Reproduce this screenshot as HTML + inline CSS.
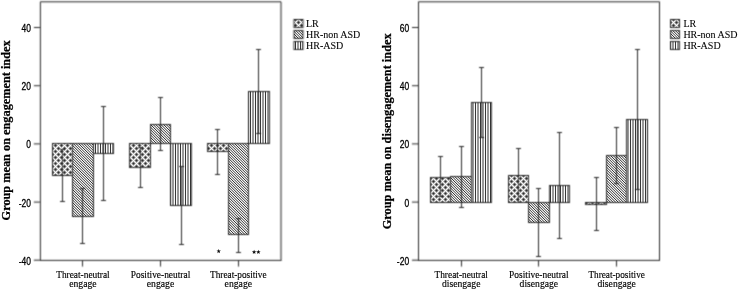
<!DOCTYPE html>
<html><head><meta charset="utf-8"><style>
html,body{margin:0;padding:0;background:#fff;}
body{width:738px;height:291px;overflow:hidden;}
svg{display:block;}
.tk{font-family:"Liberation Sans",sans-serif;font-size:10.6px;fill:#000;stroke:#000;stroke-width:0.3px;}
.yl{font-family:"Liberation Serif",serif;font-weight:bold;font-size:12.8px;fill:#000;stroke:#000;stroke-width:0.25px;}
.xl{font-family:"Liberation Serif",serif;font-size:10px;fill:#000;stroke:#000;stroke-width:0.15px;}
.lg{font-family:"Liberation Serif",serif;font-size:10px;fill:#000;stroke:#000;stroke-width:0.08px;}
</style></head><body>
<svg width="738" height="291" viewBox="0 0 738 291">
<defs>
<filter id="bl" filterUnits="userSpaceOnUse" x="0" y="0" width="738" height="291"><feConvolveMatrix order="3" kernelMatrix="1 3 1 3 9 3 1 3 1" divisor="25" preserveAlpha="false" edgeMode="none"/></filter>
<filter id="bt" filterUnits="userSpaceOnUse" x="0" y="0" width="738" height="291"><feConvolveMatrix order="3" kernelMatrix="0 0 0 0 1 0 0 0 0" divisor="1" preserveAlpha="false" edgeMode="none"/></filter>
<pattern id="pLR" patternUnits="userSpaceOnUse" x="1" y="1" width="6" height="6"><path fill="#313131" d="M0 0h1v1h-1zM3 3h1v1h-1z"/><path fill="#636363" d="M1 0h1v1h-1zM5 0h1v1h-1zM0 1h1v1h-1zM3 2h1v1h-1zM2 3h1v1h-1zM4 3h1v1h-1zM3 4h1v1h-1zM0 5h1v1h-1z"/><path fill="#c3c3c3" d="M2 0h1v1h-1zM4 0h1v1h-1zM3 1h1v1h-1zM0 2h1v1h-1zM1 3h1v1h-1zM5 3h1v1h-1zM0 4h1v1h-1zM3 5h1v1h-1z"/><path fill="#ffffff" d="M3 0h1v1h-1zM0 3h1v1h-1z"/><path fill="#a8a8a8" d="M1 1h1v1h-1zM5 1h1v1h-1zM2 2h1v1h-1zM4 2h1v1h-1zM2 4h1v1h-1zM4 4h1v1h-1zM1 5h1v1h-1zM5 5h1v1h-1z"/><path fill="#f1f1f1" d="M2 1h1v1h-1zM4 1h1v1h-1zM1 2h1v1h-1zM5 2h1v1h-1zM1 4h1v1h-1zM5 4h1v1h-1zM2 5h1v1h-1zM4 5h1v1h-1z"/></pattern>
<pattern id="pHN" patternUnits="userSpaceOnUse" x="0" y="0" width="13" height="13"><path fill="#383838" d="M0 0h1v1h-1zM1 1h1v1h-1zM2 2h1v1h-1zM3 3h1v1h-1zM4 4h1v1h-1zM5 5h1v1h-1zM6 6h1v1h-1zM7 7h1v1h-1zM8 8h1v1h-1zM9 9h1v1h-1zM10 10h1v1h-1zM11 11h1v1h-1zM12 12h1v1h-1z"/><path fill="#ededed" d="M1 0h1v1h-1zM2 1h1v1h-1zM3 2h1v1h-1zM4 3h1v1h-1zM5 4h1v1h-1zM6 5h1v1h-1zM7 6h1v1h-1zM8 7h1v1h-1zM9 8h1v1h-1zM10 9h1v1h-1zM11 10h1v1h-1zM12 11h1v1h-1zM0 12h1v1h-1z"/><path fill="#b1b1b1" d="M2 0h1v1h-1zM3 1h1v1h-1zM4 2h1v1h-1zM5 3h1v1h-1zM6 4h1v1h-1zM7 5h1v1h-1zM8 6h1v1h-1zM9 7h1v1h-1zM10 8h1v1h-1zM11 9h1v1h-1zM12 10h1v1h-1zM0 11h1v1h-1zM1 12h1v1h-1z"/><path fill="#818181" d="M3 0h1v1h-1zM10 0h1v1h-1zM4 1h1v1h-1zM11 1h1v1h-1zM5 2h1v1h-1zM12 2h1v1h-1zM0 3h1v1h-1zM6 3h1v1h-1zM1 4h1v1h-1zM7 4h1v1h-1zM2 5h1v1h-1zM8 5h1v1h-1zM3 6h1v1h-1zM9 6h1v1h-1zM4 7h1v1h-1zM10 7h1v1h-1zM5 8h1v1h-1zM11 8h1v1h-1zM6 9h1v1h-1zM12 9h1v1h-1zM0 10h1v1h-1zM7 10h1v1h-1zM1 11h1v1h-1zM8 11h1v1h-1zM2 12h1v1h-1zM9 12h1v1h-1z"/><path fill="#f9f9f9" d="M4 0h1v1h-1zM9 0h1v1h-1zM12 0h1v1h-1zM0 1h1v1h-1zM5 1h1v1h-1zM10 1h1v1h-1zM1 2h1v1h-1zM6 2h1v1h-1zM11 2h1v1h-1zM2 3h1v1h-1zM7 3h1v1h-1zM12 3h1v1h-1zM0 4h1v1h-1zM3 4h1v1h-1zM8 4h1v1h-1zM1 5h1v1h-1zM4 5h1v1h-1zM9 5h1v1h-1zM2 6h1v1h-1zM5 6h1v1h-1zM10 6h1v1h-1zM3 7h1v1h-1zM6 7h1v1h-1zM11 7h1v1h-1zM4 8h1v1h-1zM7 8h1v1h-1zM12 8h1v1h-1zM0 9h1v1h-1zM5 9h1v1h-1zM8 9h1v1h-1zM1 10h1v1h-1zM6 10h1v1h-1zM9 10h1v1h-1zM2 11h1v1h-1zM7 11h1v1h-1zM10 11h1v1h-1zM3 12h1v1h-1zM8 12h1v1h-1zM11 12h1v1h-1z"/><path fill="#5d5d5d" d="M5 0h1v1h-1zM8 0h1v1h-1zM6 1h1v1h-1zM9 1h1v1h-1zM7 2h1v1h-1zM10 2h1v1h-1zM8 3h1v1h-1zM11 3h1v1h-1zM9 4h1v1h-1zM12 4h1v1h-1zM0 5h1v1h-1zM10 5h1v1h-1zM1 6h1v1h-1zM11 6h1v1h-1zM2 7h1v1h-1zM12 7h1v1h-1zM0 8h1v1h-1zM3 8h1v1h-1zM1 9h1v1h-1zM4 9h1v1h-1zM2 10h1v1h-1zM5 10h1v1h-1zM3 11h1v1h-1zM6 11h1v1h-1zM4 12h1v1h-1zM7 12h1v1h-1z"/><path fill="#c9c9c9" d="M6 0h1v1h-1zM7 1h1v1h-1zM8 2h1v1h-1zM9 3h1v1h-1zM10 4h1v1h-1zM11 5h1v1h-1zM12 6h1v1h-1zM0 7h1v1h-1zM1 8h1v1h-1zM2 9h1v1h-1zM3 10h1v1h-1zM4 11h1v1h-1zM5 12h1v1h-1z"/><path fill="#d5d5d5" d="M7 0h1v1h-1zM8 1h1v1h-1zM9 2h1v1h-1zM10 3h1v1h-1zM11 4h1v1h-1zM12 5h1v1h-1zM0 6h1v1h-1zM1 7h1v1h-1zM2 8h1v1h-1zM3 9h1v1h-1zM4 10h1v1h-1zM5 11h1v1h-1zM6 12h1v1h-1z"/><path fill="#a5a5a5" d="M11 0h1v1h-1zM12 1h1v1h-1zM0 2h1v1h-1zM1 3h1v1h-1zM2 4h1v1h-1zM3 5h1v1h-1zM4 6h1v1h-1zM5 7h1v1h-1zM6 8h1v1h-1zM7 9h1v1h-1zM8 10h1v1h-1zM9 11h1v1h-1zM10 12h1v1h-1z"/></pattern>
<pattern id="pHA" patternUnits="userSpaceOnUse" x="0" y="0" width="5" height="1"><path fill="#383838" d="M0 0h1v1h-1z"/><path fill="#f9f9f9" d="M1 0h1v1h-1zM4 0h1v1h-1z"/><path fill="#999999" d="M2 0h2v1h-2z"/></pattern>
</defs>
<rect width="738" height="291" fill="#fff"/>
<g>
<rect x="52.50" y="143.50" width="20.00" height="32.00" fill="url(#pLR)"/>
<rect x="72.50" y="143.50" width="21.00" height="73.00" fill="url(#pHN)"/>
<rect x="93.50" y="143.50" width="20.00" height="10.00" fill="url(#pHA)"/>
<rect x="129.50" y="143.50" width="21.00" height="24.00" fill="url(#pLR)"/>
<rect x="150.50" y="124.50" width="20.00" height="19.00" fill="url(#pHN)"/>
<rect x="170.50" y="143.50" width="21.00" height="62.00" fill="url(#pHA)"/>
<rect x="207.50" y="143.50" width="21.00" height="8.00" fill="url(#pLR)"/>
<rect x="228.50" y="143.50" width="20.00" height="91.00" fill="url(#pHN)"/>
<rect x="248.50" y="91.50" width="21.00" height="52.00" fill="url(#pHA)"/>
<rect x="430.50" y="177.50" width="20.00" height="25.00" fill="url(#pLR)"/>
<rect x="450.50" y="176.50" width="21.00" height="26.00" fill="url(#pHN)"/>
<rect x="471.50" y="102.50" width="20.00" height="100.00" fill="url(#pHA)"/>
<rect x="508.50" y="175.50" width="20.00" height="27.00" fill="url(#pLR)"/>
<rect x="528.50" y="202.50" width="21.00" height="20.00" fill="url(#pHN)"/>
<rect x="549.50" y="185.50" width="20.00" height="17.00" fill="url(#pHA)"/>
<rect x="585.50" y="202.50" width="21.00" height="2.00" fill="url(#pLR)"/>
<rect x="606.50" y="155.50" width="20.00" height="47.00" fill="url(#pHN)"/>
<rect x="626.50" y="119.50" width="21.00" height="83.00" fill="url(#pHA)"/>
<rect x="294" y="19.5" width="9" height="8" fill="url(#pLR)"/>
<rect x="294" y="30.5" width="9" height="8" fill="url(#pHN)"/>
<rect x="294" y="41.5" width="9" height="8" fill="url(#pHA)"/>
<rect x="670.5" y="19.5" width="9" height="8" fill="url(#pLR)"/>
<rect x="670.5" y="30.5" width="9" height="8" fill="url(#pHN)"/>
<rect x="670.5" y="41.5" width="9" height="8" fill="url(#pHA)"/>
</g>
<g filter="url(#bl)">
<rect x="52.50" y="143.50" width="20.00" height="32.00" fill="none" stroke="#262626" stroke-width="1"/>
<rect x="72.50" y="143.50" width="21.00" height="73.00" fill="none" stroke="#262626" stroke-width="1"/>
<rect x="93.50" y="143.50" width="20.00" height="10.00" fill="none" stroke="#262626" stroke-width="1"/>
<path d="M62.50 149.50V201.50M60.00 149.50h5M60.00 201.50h5" stroke="#262626" stroke-width="1" fill="none"/>
<path d="M82.50 188.50V243.50M80.00 188.50h5M80.00 243.50h5" stroke="#262626" stroke-width="1" fill="none"/>
<path d="M103.50 106.50V200.50M101.00 106.50h5M101.00 200.50h5" stroke="#262626" stroke-width="1" fill="none"/>
<rect x="129.50" y="143.50" width="21.00" height="24.00" fill="none" stroke="#262626" stroke-width="1"/>
<rect x="150.50" y="124.50" width="20.00" height="19.00" fill="none" stroke="#262626" stroke-width="1"/>
<rect x="170.50" y="143.50" width="21.00" height="62.00" fill="none" stroke="#262626" stroke-width="1"/>
<path d="M140.50 147.50V187.50M138.00 147.50h5M138.00 187.50h5" stroke="#262626" stroke-width="1" fill="none"/>
<path d="M160.50 97.50V150.50M158.00 97.50h5M158.00 150.50h5" stroke="#262626" stroke-width="1" fill="none"/>
<path d="M181.50 166.50V244.50M179.00 166.50h5M179.00 244.50h5" stroke="#262626" stroke-width="1" fill="none"/>
<rect x="207.50" y="143.50" width="21.00" height="8.00" fill="none" stroke="#262626" stroke-width="1"/>
<rect x="228.50" y="143.50" width="20.00" height="91.00" fill="none" stroke="#262626" stroke-width="1"/>
<rect x="248.50" y="91.50" width="21.00" height="52.00" fill="none" stroke="#262626" stroke-width="1"/>
<path d="M217.50 129.50V174.50M215.00 129.50h5M215.00 174.50h5" stroke="#262626" stroke-width="1" fill="none"/>
<path d="M238.50 218.50V252.50M236.00 218.50h5M236.00 252.50h5" stroke="#262626" stroke-width="1" fill="none"/>
<path d="M258.50 49.50V133.50M256.00 49.50h5M256.00 133.50h5" stroke="#262626" stroke-width="1" fill="none"/>
<rect x="430.50" y="177.50" width="20.00" height="25.00" fill="none" stroke="#262626" stroke-width="1"/>
<rect x="450.50" y="176.50" width="21.00" height="26.00" fill="none" stroke="#262626" stroke-width="1"/>
<rect x="471.50" y="102.50" width="20.00" height="100.00" fill="none" stroke="#262626" stroke-width="1"/>
<path d="M440.50 156.50V196.50M438.00 156.50h5M438.00 196.50h5" stroke="#262626" stroke-width="1" fill="none"/>
<path d="M461.50 146.50V207.50M459.00 146.50h5M459.00 207.50h5" stroke="#262626" stroke-width="1" fill="none"/>
<path d="M481.50 67.50V137.50M479.00 67.50h5M479.00 137.50h5" stroke="#262626" stroke-width="1" fill="none"/>
<rect x="508.50" y="175.50" width="20.00" height="27.00" fill="none" stroke="#262626" stroke-width="1"/>
<rect x="528.50" y="202.50" width="21.00" height="20.00" fill="none" stroke="#262626" stroke-width="1"/>
<rect x="549.50" y="185.50" width="20.00" height="17.00" fill="none" stroke="#262626" stroke-width="1"/>
<path d="M518.50 148.50V202.50M516.00 148.50h5M516.00 202.50h5" stroke="#262626" stroke-width="1" fill="none"/>
<path d="M538.50 188.50V256.50M536.00 188.50h5M536.00 256.50h5" stroke="#262626" stroke-width="1" fill="none"/>
<path d="M559.50 132.50V238.50M557.00 132.50h5M557.00 238.50h5" stroke="#262626" stroke-width="1" fill="none"/>
<rect x="585.50" y="202.50" width="21.00" height="2.00" fill="none" stroke="#262626" stroke-width="1"/>
<rect x="606.50" y="155.50" width="20.00" height="47.00" fill="none" stroke="#262626" stroke-width="1"/>
<rect x="626.50" y="119.50" width="21.00" height="83.00" fill="none" stroke="#262626" stroke-width="1"/>
<path d="M596.50 177.50V230.50M594.00 177.50h5M594.00 230.50h5" stroke="#262626" stroke-width="1" fill="none"/>
<path d="M616.50 127.50V183.50M614.00 127.50h5M614.00 183.50h5" stroke="#262626" stroke-width="1" fill="none"/>
<path d="M637.50 49.50V189.50M635.00 49.50h5M635.00 189.50h5" stroke="#262626" stroke-width="1" fill="none"/>
<path d="M40.4 260.4V1.8H281.0V260.4" fill="none" stroke="#262626" stroke-width="1"/>
<path d="M39.9 260.4H281.5" fill="none" stroke="#262626" stroke-width="1"/>
<path d="M33.9 27.5h6" stroke="#262626" stroke-width="1"/>
<path d="M33.9 85.7h6" stroke="#262626" stroke-width="1"/>
<path d="M33.9 143.9h6" stroke="#262626" stroke-width="1"/>
<path d="M33.9 202.1h6" stroke="#262626" stroke-width="1"/>
<path d="M33.9 260.2h6" stroke="#262626" stroke-width="1"/>
<path d="M82.50 260.5v6" stroke="#262626" stroke-width="1"/>
<path d="M160.50 260.5v6" stroke="#262626" stroke-width="1"/>
<path d="M238.50 260.5v6" stroke="#262626" stroke-width="1"/>
<rect x="294" y="19.5" width="9" height="8" fill="none" stroke="#262626" stroke-width="1"/>
<rect x="294" y="30.5" width="9" height="8" fill="none" stroke="#262626" stroke-width="1"/>
<rect x="294" y="41.5" width="9" height="8" fill="none" stroke="#262626" stroke-width="1"/>
<path d="M418.5 260.4V1.8H659.5V260.4" fill="none" stroke="#262626" stroke-width="1"/>
<path d="M418.0 260.4H660.0" fill="none" stroke="#262626" stroke-width="1"/>
<path d="M412.0 27.5h6" stroke="#262626" stroke-width="1"/>
<path d="M412.0 85.7h6" stroke="#262626" stroke-width="1"/>
<path d="M412.0 143.9h6" stroke="#262626" stroke-width="1"/>
<path d="M412.0 202.1h6" stroke="#262626" stroke-width="1"/>
<path d="M412.0 260.2h6" stroke="#262626" stroke-width="1"/>
<path d="M461.50 260.5v6" stroke="#262626" stroke-width="1"/>
<path d="M538.50 260.5v6" stroke="#262626" stroke-width="1"/>
<path d="M616.50 260.5v6" stroke="#262626" stroke-width="1"/>
<rect x="670.5" y="19.5" width="9" height="8" fill="none" stroke="#262626" stroke-width="1"/>
<rect x="670.5" y="30.5" width="9" height="8" fill="none" stroke="#262626" stroke-width="1"/>
<rect x="670.5" y="41.5" width="9" height="8" fill="none" stroke="#262626" stroke-width="1"/>
</g>
<g filter="url(#bt)">
<g transform="translate(31.0 31.9) scale(0.8 1)"><text x="0" y="0" text-anchor="end" class="tk">40</text></g>
<g transform="translate(31.0 90.10000000000001) scale(0.8 1)"><text x="0" y="0" text-anchor="end" class="tk">20</text></g>
<g transform="translate(31.0 148.3) scale(0.8 1)"><text x="0" y="0" text-anchor="end" class="tk">0</text></g>
<g transform="translate(31.0 206.5) scale(0.8 1)"><text x="0" y="0" text-anchor="end" class="tk">-20</text></g>
<g transform="translate(31.0 264.59999999999997) scale(0.8 1)"><text x="0" y="0" text-anchor="end" class="tk">-40</text></g>
<text class="yl" transform="translate(10.3 130.4) rotate(-90)" text-anchor="middle" textLength="180" lengthAdjust="spacingAndGlyphs">Group mean on engagement index</text>
<text x="82.93" y="278.3" text-anchor="middle" class="xl" textLength="53.5" lengthAdjust="spacingAndGlyphs">Threat-neutral</text>
<text x="82.93" y="286.8" text-anchor="middle" class="xl" textLength="27.5" lengthAdjust="spacingAndGlyphs">engage</text>
<text x="160.53" y="278.3" text-anchor="middle" class="xl" textLength="59.5" lengthAdjust="spacingAndGlyphs">Positive-neutral</text>
<text x="160.53" y="286.8" text-anchor="middle" class="xl" textLength="27.5" lengthAdjust="spacingAndGlyphs">engage</text>
<text x="238.33" y="278.3" text-anchor="middle" class="xl" textLength="56.5" lengthAdjust="spacingAndGlyphs">Threat-positive</text>
<text x="238.33" y="286.8" text-anchor="middle" class="xl" textLength="27.5" lengthAdjust="spacingAndGlyphs">engage</text>
<text x="306" y="26.9" class="lg">LR</text>
<text x="306" y="37.9" class="lg">HR-non ASD</text>
<text x="306" y="48.9" class="lg">HR-ASD</text>
<g transform="translate(409.1 31.9) scale(0.8 1)"><text x="0" y="0" text-anchor="end" class="tk">60</text></g>
<g transform="translate(409.1 90.10000000000001) scale(0.8 1)"><text x="0" y="0" text-anchor="end" class="tk">40</text></g>
<g transform="translate(409.1 148.3) scale(0.8 1)"><text x="0" y="0" text-anchor="end" class="tk">20</text></g>
<g transform="translate(409.1 206.5) scale(0.8 1)"><text x="0" y="0" text-anchor="end" class="tk">0</text></g>
<g transform="translate(409.1 264.59999999999997) scale(0.8 1)"><text x="0" y="0" text-anchor="end" class="tk">-20</text></g>
<text class="yl" transform="translate(390.5 131.3) rotate(-90)" text-anchor="middle" textLength="196" lengthAdjust="spacingAndGlyphs">Group mean on disengagement index</text>
<text x="461.23" y="278.3" text-anchor="middle" class="xl" textLength="53.5" lengthAdjust="spacingAndGlyphs">Threat-neutral</text>
<text x="461.23" y="286.8" text-anchor="middle" class="xl" textLength="38.5" lengthAdjust="spacingAndGlyphs">disengage</text>
<text x="538.83" y="278.3" text-anchor="middle" class="xl" textLength="59.5" lengthAdjust="spacingAndGlyphs">Positive-neutral</text>
<text x="538.83" y="286.8" text-anchor="middle" class="xl" textLength="38.5" lengthAdjust="spacingAndGlyphs">disengage</text>
<text x="616.63" y="278.3" text-anchor="middle" class="xl" textLength="56.5" lengthAdjust="spacingAndGlyphs">Threat-positive</text>
<text x="616.63" y="286.8" text-anchor="middle" class="xl" textLength="38.5" lengthAdjust="spacingAndGlyphs">disengage</text>
<text x="683.4" y="26.9" class="lg">LR</text>
<text x="683.4" y="37.9" class="lg">HR-non ASD</text>
<text x="683.4" y="48.9" class="lg">HR-ASD</text>
<polygon points="218.70,249.00 219.27,250.52 220.89,250.59 219.62,251.60 220.05,253.16 218.70,252.27 217.35,253.16 217.78,251.60 216.51,250.59 218.13,250.52" fill="#111"/>
<polygon points="254.10,249.80 254.67,251.32 256.29,251.39 255.02,252.40 255.45,253.96 254.10,253.07 252.75,253.96 253.18,252.40 251.91,251.39 253.53,251.32" fill="#111"/>
<polygon points="258.40,249.80 258.97,251.32 260.59,251.39 259.32,252.40 259.75,253.96 258.40,253.07 257.05,253.96 257.48,252.40 256.21,251.39 257.83,251.32" fill="#111"/>
</g>
</svg>
</body></html>
